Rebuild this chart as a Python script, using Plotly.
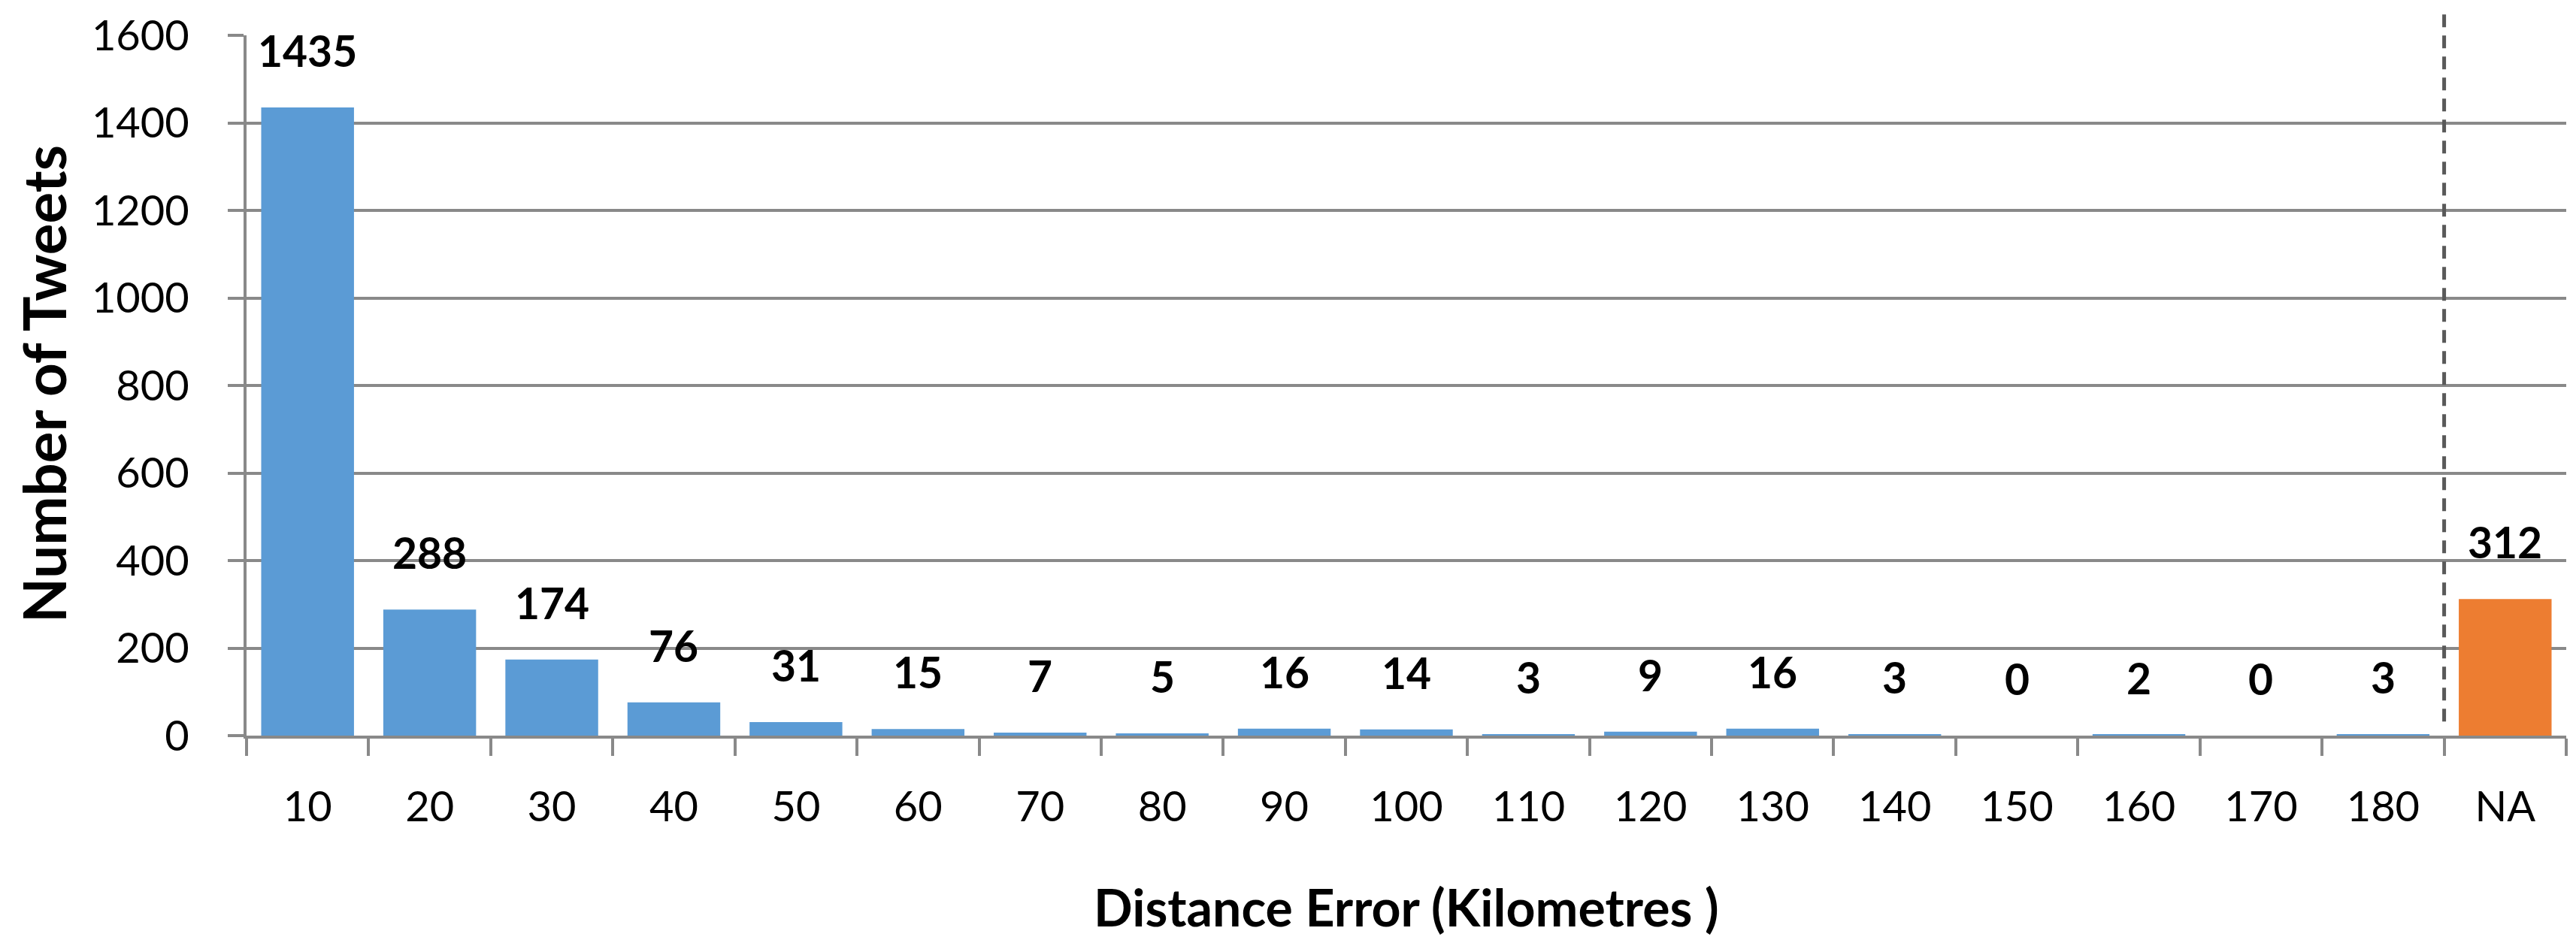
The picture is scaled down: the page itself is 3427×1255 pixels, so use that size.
import plotly.graph_objects as go

# ---- data ----
categories = ["10", "20", "30", "40", "50", "60", "70", "80", "90", "100",
              "110", "120", "130", "140", "150", "160", "170", "180", "NA"]
tweet_counts = [1435, 288, 174, 76, 31, 15, 7, 5, 16, 14,
                3, 9, 16, 3, 0, 2, 0, 3, 312]
bar_colors = ["#5B9BD5"] * 18 + ["#ED7D31"]
y_ticks = [0, 200, 400, 600, 800, 1000, 1200, 1400, 1600]
x_title = "Distance Error (Kilometres )"
y_title = "Number of Tweets"

FONT = "Lato, 'Open Sans', sans-serif"
GRID = "#898989"

fig = go.Figure()
fig.add_trace(go.Bar(
    x=categories, y=tweet_counts,
    marker=dict(color=bar_colors, line=dict(width=0)),
    showlegend=False, hoverinfo="x+y",
))

# value labels above the bars (x given as category index)
for i, v in enumerate(tweet_counts):
    fig.add_annotation(x=i, y=v, text=f"<b>{v}</b>", showarrow=False,
                       xref="x", yref="y", yanchor="middle", yshift=76,
                       font=dict(family=FONT, size=57, color="black"))

# dashed separator between 180 and NA
fig.add_shape(type="line", xref="x", yref="paper",
              x0=len(categories) - 1.5, x1=len(categories) - 1.5,
              y0=0.02, y1=1.03,
              line=dict(color="#595959", width=5, dash="17px,11px"))

# axis titles
fig.add_annotation(text=f"<b>{x_title}</b>", xref="paper", yref="paper",
                   x=0.5, y=-0.2436, xanchor="center", yanchor="middle",
                   showarrow=False,
                   font=dict(family=FONT, size=68, color="black"))
fig.add_annotation(text=f"<b>{y_title}</b>", xref="paper", yref="paper",
                   x=-0.0875, y=0.502, xanchor="center", yanchor="middle",
                   textangle=-90, showarrow=False,
                   font=dict(family=FONT, size=78, color="black"))

fig.update_layout(
    width=3427, height=1255,
    margin=dict(l=320, r=21, t=39, b=284),
    paper_bgcolor="white", plot_bgcolor="white",
    bargap=0.24,
    font=dict(family=FONT, color="black"),
    xaxis=dict(
        type="category", tickson="boundaries", automargin=False,
        range=[-0.5, len(categories) - 0.5], tickangle=0,
        ticks="outside", ticklen=23, tickwidth=4, tickcolor=GRID,
        showline=True, linecolor=GRID, linewidth=4,
        showgrid=False,
        tickfont=dict(family=FONT, size=56, color="black"),
        ticklabelstandoff=43,
    ),
    yaxis=dict(
        range=[0, 1600], tickvals=y_ticks, automargin=False,
        ticks="outside", ticklen=21, tickwidth=4, tickcolor=GRID,
        showline=True, linecolor=GRID, linewidth=4,
        showgrid=True, gridcolor=GRID, gridwidth=4,
        zeroline=False,
        tickfont=dict(family=FONT, size=56, color="black"),
        ticklabelstandoff=40,
    ),
)

fig.write_html("out.html")
